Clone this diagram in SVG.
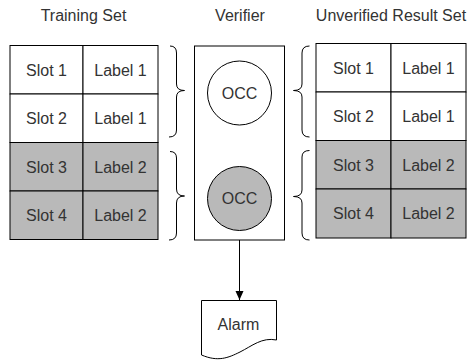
<svg xmlns="http://www.w3.org/2000/svg" width="470" height="362" viewBox="0 0 470 362">
<style>
.t{font-family:"Liberation Sans",Arial,sans-serif;font-size:16px;fill:#333;text-anchor:middle}
.c{stroke:#000;stroke-width:1}
.w{fill:#fff}
.g{fill:#b9b9b9}
.br{fill:none;stroke:#000;stroke-width:1}
</style>
<defs>
<marker id="ah" markerWidth="10" markerHeight="10" refX="9" refY="4" orient="auto" markerUnits="userSpaceOnUse">
<path d="M0,0 L9,4 L0,8 Z" fill="#000"/>
</marker>
</defs>
<rect width="470" height="362" fill="#fff"/>

<g id="titles">
<text class="t" x="83.5" y="21">Training Set</text>
<text class="t" x="240" y="21">Verifier</text>
<text class="t" x="391" y="21">Unverified Result Set</text>
</g>

<g id="training-set">
<rect class="c w" x="10" y="45.5" width="73" height="48.5"/>
<rect class="c w" x="83" y="45.5" width="75" height="48.5"/>
<rect class="c w" x="10" y="94" width="73" height="48.5"/>
<rect class="c w" x="83" y="94" width="75" height="48.5"/>
<rect class="c g" x="10" y="142.5" width="73" height="48.5"/>
<rect class="c g" x="83" y="142.5" width="75" height="48.5"/>
<rect class="c g" x="10" y="191" width="73" height="48.5"/>
<rect class="c g" x="83" y="191" width="75" height="48.5"/>
<text class="t" x="46.5" y="75.5">Slot 1</text>
<text class="t" x="120.5" y="75.5">Label 1</text>
<text class="t" x="46.5" y="124">Slot 2</text>
<text class="t" x="120.5" y="124">Label 1</text>
<text class="t" x="46.5" y="172.5">Slot 3</text>
<text class="t" x="120.5" y="172.5">Label 2</text>
<text class="t" x="46.5" y="221">Slot 4</text>
<text class="t" x="120.5" y="221">Label 2</text>
</g>

<g id="verifier">
<rect class="c w" x="194.5" y="46" width="90" height="194"/>
<circle class="c w" cx="239.5" cy="93" r="32"/>
<text class="t" x="239.5" y="98.5">OCC</text>
<circle class="c g" cx="239.5" cy="198.5" r="32"/>
<text class="t" x="239.5" y="204">OCC</text>
</g>

<g id="unverified-result-set">
<rect class="c w" x="316" y="43.5" width="75" height="48.5"/>
<rect class="c w" x="391" y="43.5" width="75" height="48.5"/>
<rect class="c w" x="316" y="92" width="75" height="48.5"/>
<rect class="c w" x="391" y="92" width="75" height="48.5"/>
<rect class="c g" x="316" y="140.5" width="75" height="48.5"/>
<rect class="c g" x="391" y="140.5" width="75" height="48.5"/>
<rect class="c g" x="316" y="189" width="75" height="49"/>
<rect class="c g" x="391" y="189" width="75" height="49"/>
<text class="t" x="353.5" y="73.5">Slot 1</text>
<text class="t" x="428.5" y="73.5">Label 1</text>
<text class="t" x="353.5" y="122">Slot 2</text>
<text class="t" x="428.5" y="122">Label 1</text>
<text class="t" x="353.5" y="170.5">Slot 3</text>
<text class="t" x="428.5" y="170.5">Label 2</text>
<text class="t" x="353.5" y="219">Slot 4</text>
<text class="t" x="428.5" y="219">Label 2</text>
</g>

<g id="braces">
<path class="br" d="M170,46 Q176.5,46 176.5,53 L176.5,84 Q176.5,90.5 184.5,90.5 Q176.5,90.5 176.5,97 L176.5,130 Q176.5,137 169,137"/>
<path class="br" d="M170,151.5 Q176.5,151.5 176.5,158 L176.5,189 Q176.5,196 184.5,196 Q176.5,196 176.5,203 L176.5,233 Q176.5,240 169,240"/>
<path class="br" d="M309.5,46 Q302,46 302,53 L302,84 Q302,90.5 293.5,90.5 Q302,90.5 302,97 L302,130 Q302,137 309.5,137"/>
<path class="br" d="M309.5,150.5 Q302,150.5 302,157 L302,190 Q302,196.5 293.5,196.5 Q302,196.5 302,203 L302,233 Q302,240 309.5,240"/>
</g>

<g id="connectors">
<line x1="239.5" y1="240" x2="239.5" y2="300" stroke="#000" stroke-width="1" marker-end="url(#ah)"/>
</g>

<g id="alarm">
<path class="c w" d="M201.5,300.5 H276.5 V340 C262,337 252,346 240,352 C228,358 218,362 201.5,355 Z"/>
<text class="t" x="238.5" y="330">Alarm</text>
</g>
</svg>
